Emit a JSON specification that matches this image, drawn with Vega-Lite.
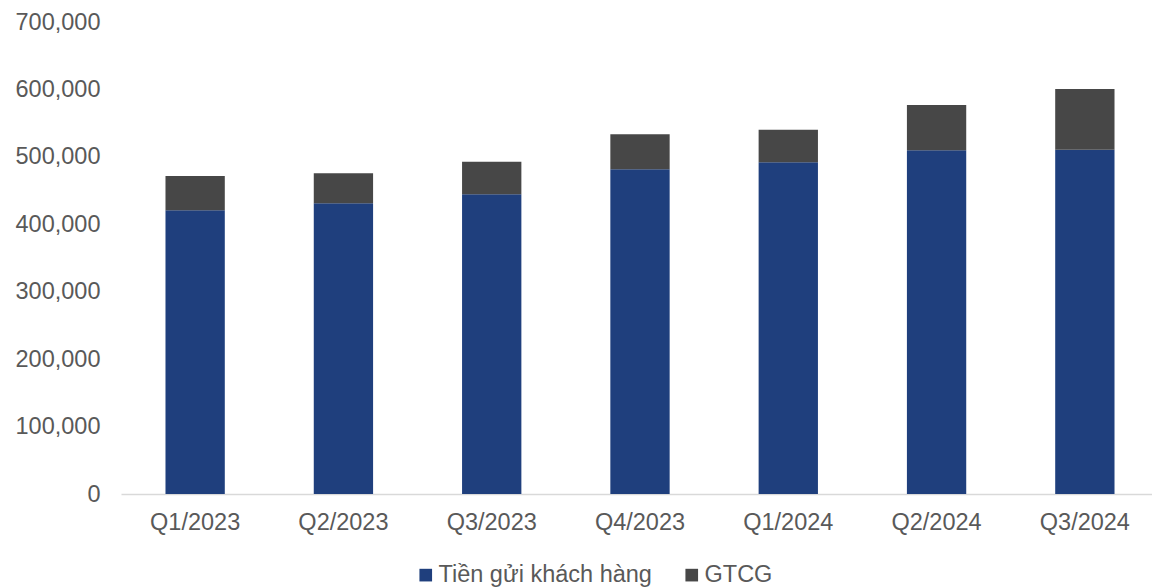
{
  "$schema": "https://vega.github.io/schema/vega-lite/v6.json",
  "width": 1031,
  "height": 472,
  "autosize": "none",
  "padding": {"left": 121, "top": 22, "right": 0, "bottom": 93},
  "background": "white",
  "data": {
    "values": [
      {"quarter": "Q1/2023", "series": "Tiền gửi khách hàng", "value": 420700},
      {"quarter": "Q1/2023", "series": "GTCG", "value": 50900},
      {"quarter": "Q2/2023", "series": "Tiền gửi khách hàng", "value": 431100},
      {"quarter": "Q2/2023", "series": "GTCG", "value": 44500},
      {"quarter": "Q3/2023", "series": "Tiền gửi khách hàng", "value": 444500},
      {"quarter": "Q3/2023", "series": "GTCG", "value": 48300},
      {"quarter": "Q4/2023", "series": "Tiền gửi khách hàng", "value": 481500},
      {"quarter": "Q4/2023", "series": "GTCG", "value": 52000},
      {"quarter": "Q1/2024", "series": "Tiền gửi khách hàng", "value": 491900},
      {"quarter": "Q1/2024", "series": "GTCG", "value": 48400},
      {"quarter": "Q2/2024", "series": "Tiền gửi khách hàng", "value": 509700},
      {"quarter": "Q2/2024", "series": "GTCG", "value": 67200},
      {"quarter": "Q3/2024", "series": "Tiền gửi khách hàng", "value": 510600},
      {"quarter": "Q3/2024", "series": "GTCG", "value": 90000}
    ]
  },
  "mark": {"type": "bar"},
  "encoding": {
    "x": {
      "field": "quarter",
      "type": "nominal",
      "sort": null,
      "scale": {"paddingInner": 0.6, "paddingOuter": 0.3, "range": [0, 1038]},
      "axis": {
        "title": null,
        "labelAngle": 0,
        "ticks": false,
        "domainColor": "#d9d9d9",
        "domainWidth": 1.3,
        "labelPadding": 16,
        "labelFontSize": 23.5,
        "labelFont": "Liberation Sans",
        "labelColor": "#595959"
      }
    },
    "y": {
      "field": "value",
      "type": "quantitative",
      "stack": "zero",
      "scale": {"domain": [0, 700000]},
      "axis": {
        "title": null,
        "values": [0, 100000, 200000, 300000, 400000, 500000, 600000, 700000],
        "format": ",d",
        "grid": false,
        "domain": false,
        "ticks": false,
        "labelPadding": 21,
        "labelFontSize": 23.5,
        "labelFont": "Liberation Sans",
        "labelColor": "#595959"
      }
    },
    "color": {
      "field": "series",
      "type": "nominal",
      "scale": {"domain": ["Tiền gửi khách hàng", "GTCG"], "range": ["#1f3f7d", "#474747"]},
      "legend": {
        "title": null,
        "orient": "none",
        "direction": "horizontal",
        "legendX": 293,
        "legendY": 541,
        "symbolType": "square",
        "symbolSize": 160,
        "symbolStrokeWidth": 0,
        "labelFontSize": 23.5,
        "labelFont": "Liberation Sans",
        "labelColor": "#595959",
        "labelLimit": 0,
        "labelOffset": 1,
        "columnPadding": 28
      }
    },
    "order": {"field": "series", "sort": "descending"}
  },
  "config": {"view": {"stroke": null}}
}
